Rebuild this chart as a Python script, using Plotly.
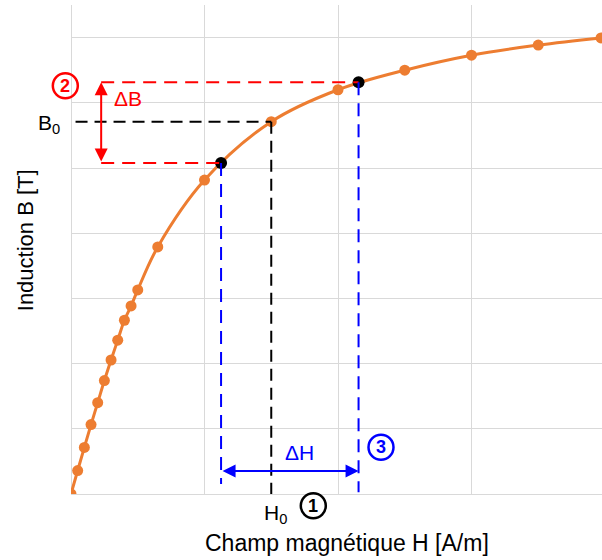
import plotly.graph_objects as go

# B-H curve
H = [0, 5, 10, 15, 20, 25, 30, 35, 40, 45, 50, 65, 100, 150, 200, 250, 300, 350, 397]
B = [0, 0.072, 0.143, 0.213, 0.280, 0.348, 0.411, 0.472, 0.533, 0.577, 0.626,
     0.758, 0.963, 1.142, 1.240, 1.300, 1.346, 1.377, 1.399]

# working point and the two construction points
H0, B0 = 150, 1.142
H_low, B_low = 112.4, 1.015
H_high, B_high = 215.4, 1.263

# positions of construction helpers (data units)
H_arrowB = 22.6       # x of the vertical ΔB arrow
B_arrowH = 0.0706     # y of the horizontal ΔH arrow
H_dashB0 = 3.4        # start of the B0 dashed line

X_TITLE = "Champ magnétique H [A/m]"
Y_TITLE = "Induction B [T]"

ORANGE = "#ED7D31"
RED = "#FF0000"
BLUE = "#0000FF"
GRID = "#d9d9d9"
FONT = "Liberation Sans, Arial, sans-serif"
ANN_SIZE = 21

fig = go.Figure()

fig.add_trace(go.Scatter(
    x=H, y=B, mode="lines+markers",
    line=dict(color=ORANGE, width=3, shape="spline", smoothing=1),
    marker=dict(color=ORANGE, size=11),
    hoverinfo="skip", showlegend=False,
))

shapes = []
def dline(x0, y0, x1, y1, color, dash="13px,8px", width=2):
    shapes.append(dict(type="line", xref="x", yref="y", x0=x0, y0=y0, x1=x1, y1=y1,
                       line=dict(color=color, width=width, dash=dash), layer="above"))

# black: B0 / H0
dline(H_dashB0, B0, H0, B0, "black", "12px,7px")
dline(H0, B0, H0, 0, "black", "12px,7px")
# red: ΔB limits
dline(H_arrowB, B_high, H_high, B_high, RED)
dline(H_arrowB, B_low, H_low, B_low, RED)
# blue: ΔH limits
dline(H_low, B_low, H_low, 0.031, BLUE)
dline(H_high, B_high, H_high, 0.005, BLUE)

fig.add_trace(go.Scatter(
    x=[H_low, H_high], y=[B_low, B_high], mode="markers",
    marker=dict(color="black", size=12),
    hoverinfo="skip", showlegend=False, cliponaxis=False,
))

# circled numbers (paper coords, pixel-sized circles)
circles = [("2", RED, -0.0107, 0.8350), ("3", BLUE, 0.5838, 0.0955), ("1", "black", 0.4563, -0.0239)]
annotations = []
for txt, col, cx, cy in circles:
    shapes.append(dict(type="circle", xref="paper", yref="paper",
                       xsizemode="pixel", ysizemode="pixel", xanchor=cx, yanchor=cy,
                       x0=-12.5, x1=12.5, y0=-12.5, y1=12.5,
                       line=dict(color=col, width=2.5), layer="above"))
    annotations.append(dict(text="<b>%s</b>" % txt, xref="paper", yref="paper", x=cx, y=cy,
                            xanchor="center", yanchor="middle", showarrow=False,
                            font=dict(family=FONT, size=18, color=col)))

# arrows
annotations.append(dict(x=H_arrowB, y=B_high, ax=H_arrowB, ay=B_low, xref="x", yref="y",
                        axref="x", ayref="y", text="", showarrow=True, arrowhead=2,
                        arrowside="end+start", arrowsize=1.3, arrowwidth=2, arrowcolor=RED,
                        standoff=0, startstandoff=0))
annotations.append(dict(x=H_high, y=B_arrowH, ax=H_low, ay=B_arrowH, xref="x", yref="y",
                        axref="x", ayref="y", text="", showarrow=True, arrowhead=2,
                        arrowside="end+start", arrowsize=1.3, arrowwidth=2, arrowcolor=BLUE,
                        standoff=0, startstandoff=0))

# labels
annotations.append(dict(text="ΔB", xref="x", yref="y", x=30.9, y=1.213, xanchor="left",
                        yanchor="middle", showarrow=False, font=dict(family=FONT, size=ANN_SIZE, color=RED)))
annotations.append(dict(text="ΔH", xref="x", yref="y", x=171.5, y=0.126, xanchor="center",
                        yanchor="middle", showarrow=False, font=dict(family=FONT, size=ANN_SIZE, color=BLUE)))
annotations.append(dict(text="B<sub>0</sub>", xref="paper", yref="y", x=-0.017, y=B0, xanchor="right",
                        yanchor="middle", yshift=-2, showarrow=False, font=dict(family=FONT, size=ANN_SIZE, color="black")))
annotations.append(dict(text="H<sub>0</sub>", xref="x", yref="paper", x=H0, xshift=4, y=-0.041,
                        xanchor="center", yanchor="middle", showarrow=False, font=dict(family=FONT, size=ANN_SIZE, color="black")))

# axis titles
annotations.append(dict(text=X_TITLE, xref="paper", yref="paper", x=0.52, y=-0.1002,
                        xanchor="center", yanchor="middle", showarrow=False,
                        font=dict(family=FONT, size=23, color="black")))
annotations.append(dict(text=Y_TITLE, xref="paper", yref="paper", x=-0.0866, y=0.519, textangle=-90,
                        xanchor="center", yanchor="middle", showarrow=False,
                        font=dict(family=FONT, size=22, color="black")))

fig.update_layout(
    width=602, height=560,
    margin=dict(l=71, r=0, t=5, b=66),
    paper_bgcolor="white", plot_bgcolor="white",
    font=dict(family=FONT, color="black"),
    shapes=shapes, annotations=annotations,
    xaxis=dict(range=[0, 397.75], tick0=0, dtick=100, showgrid=True, gridcolor=GRID, gridwidth=1,
               zeroline=True, zerolinecolor=GRID, zerolinewidth=1, showline=False,
               showticklabels=False, ticks="", fixedrange=True),
    yaxis=dict(range=[0, 1.5], tick0=0, dtick=0.2, showgrid=True, gridcolor=GRID, gridwidth=1,
               zeroline=True, zerolinecolor=GRID, zerolinewidth=1, showline=False,
               showticklabels=False, ticks="", fixedrange=True),
)

fig.write_html("out.html", config={"displayModeBar": False},
               post_script="document.body.style.margin='0px';")
